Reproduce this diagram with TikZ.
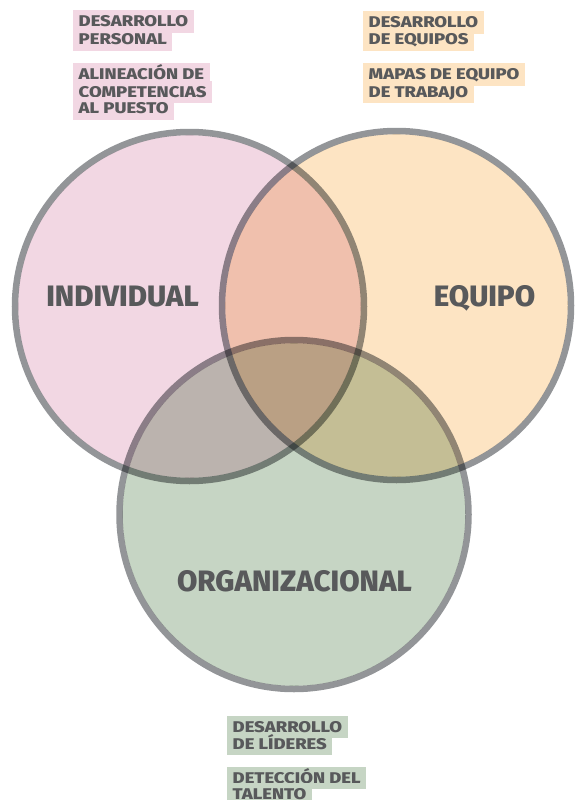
\documentclass[tikz,border=0pt]{standalone}
\usepackage{fontspec}
\setmainfont{Fira Sans}
\newfontfamily\lblfont{Fira Sans}[BoldFont={Fira Sans ExtraBold}]
\newfontfamily\smlfont{Fira Sans}[BoldFont={Fira Sans ExtraBold},FakeStretch=1.19]
\definecolor{cpink}{HTML}{F2D7E3}
\definecolor{corange}{HTML}{FDE4C3}
\definecolor{cgreen}{HTML}{C6D5C4}
\definecolor{cstroke}{HTML}{939598}
\definecolor{ctext}{HTML}{58595B}
\tikzset{
  vennfill/.style={fill=#1, blend mode=multiply},
  vennring/.style={draw=cstroke, line width=6.5pt, blend mode=multiply},
  biglbl/.style={anchor=base, text=ctext, font=\lblfont\bfseries\fontsize{29.5}{30}\selectfont, inner sep=0pt},
  hl/.style={anchor=base west, fill=#1, text=ctext, font=\smlfont\bfseries\fontsize{15.5}{16}\selectfont,
    inner xsep=5.5pt, inner ysep=2.5pt, text height=14pt, text depth=3.5pt}
}
\begin{document}
\begin{tikzpicture}[x=1pt,y=-1pt]
\useasboundingbox (0,0) rectangle (575,800);
\coordinate (ci) at (189.5,306.5);
\coordinate (ce) at (396.5,305.5);
\coordinate (co) at (294,514.5);
% fills (kept inside their own rings)
\path[vennfill=cpink] (ci) circle (171.3);
\path[vennfill=corange] (ce) circle (171.3);
\path[vennfill=cgreen] (co) circle (171.3);
% rings
\path[vennring] (ci) circle (174.5);
\path[vennring] (ce) circle (174.5);
\path[vennring] (co) circle (174.5);
% big labels
\node[biglbl] (ind) at (122.5,306) {INDIVIDUAL};
\node[biglbl] (equ) at (484.5,306) {EQUIPO};
\node[biglbl] (org) at (294.5,591) {ORGANIZACIONAL};
% left labels
\node[hl=cpink] (l1) at (73,27) {DESARROLLO};
\node[hl=cpink] (l2) at (73,45) {PERSONAL};
\node[hl=cpink] (l3) at (73,80) {ALINEACIÓN DE};
\node[hl=cpink] (l4) at (73,97) {COMPETENCIAS};
\node[hl=cpink] (l5) at (73,113.5) {AL PUESTO};
% right labels
\node[hl=corange] (r1) at (363,28) {DESARROLLO};
\node[hl=corange] (r2) at (363,45) {DE EQUIPOS};
\node[hl=corange] (r3) at (363,80) {MAPAS DE EQUIPO};
\node[hl=corange] (r4) at (363,97) {DE TRABAJO};
% bottom labels
\node[hl=cgreen] (b1) at (227,732) {DESARROLLO};
\node[hl=cgreen] (b2) at (227,749) {DE LÍDERES};
\node[hl=cgreen] (b3) at (227,783) {DETECCIÓN DEL};
\node[hl=cgreen] (b4) at (227,799) {TALENTO};
\end{tikzpicture}
\end{document}
